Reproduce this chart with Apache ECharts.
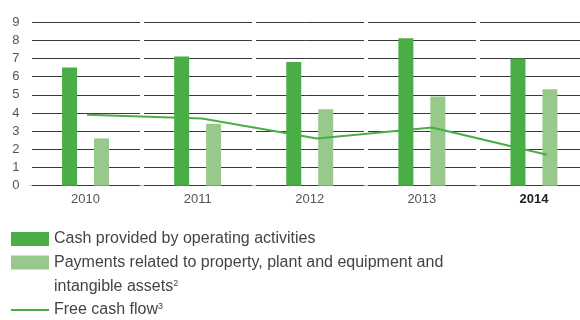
<!DOCTYPE html>
<html>
<head>
<meta charset="utf-8">
<script src="https://cdn.jsdelivr.net/npm/echarts@6/dist/echarts.min.js"></script>
<style>
  html, body { margin: 0; padding: 0; background: #fff; }
  #chart { width: 580px; height: 320px; }
</style>
</head>
<body>
<div id="chart"></div>
<script>
// Years on the category axis
const years = ['2010', '2011', '2012', '2013', '2014'];
// Values in billion euro
const operatingCash = [6.5, 7.1, 6.8, 8.1, 7.0];
const capexPayments = [2.6, 3.4, 4.2, 4.9, 5.3];
const freeCashFlow = [3.9, 3.7, 2.6, 3.2, 1.7];
// Y axis ticks
const yMin = 0, yMax = 9, yStep = 1;

const DARK = '#4aae46';
const LIGHT = '#97c98a';
const FONT = '"Liberation Sans", Arial, sans-serif';

const seriesNames = [
  'Cash provided by operating activities',
  'Payments related to property, plant and equipment and intangible assets',
  'Free cash flow'
];

const chart = echarts.init(document.getElementById('chart'), null, { renderer: 'canvas' });

const legendText = {
  fontFamily: FONT, fontSize: 16, color: '#444', lineHeight: 24,
  rich: { sup: { fontFamily: FONT, fontSize: 9, color: '#444', verticalAlign: 'middle', padding: [0, 0, 6, 0] } }
};

const legendBase = { orient: 'vertical', left: 11, padding: 0, itemWidth: 38, itemHeight: 14, itemGap: 0 };

// The plotting area runs past the right edge of the canvas
const gridBase = { top: 22, bottom: 134.3, outerBoundsMode: 'none', containLabel: false };

chart.setOption({
  animation: false,
  textStyle: { fontFamily: FONT },
  grid: [
    Object.assign({ left: 29.5, width: 560.5 }, gridBase),
    Object.assign({ left: 29.5, width: 575 }, gridBase)
  ],
  xAxis: [
    {
      type: 'category', gridIndex: 0, data: years, z: 1,
      axisLine: { show: false }, axisTick: { show: false },
      splitLine: { show: true, lineStyle: { color: '#fff', width: 4 } },
      axisLabel: {
        margin: 7, fontSize: 13, color: '#555', fontFamily: FONT,
        formatter: (v, i) => i === years.length - 1 ? '{b|' + v + '}' : v,
        rich: { b: { fontWeight: 'bold', color: '#222', fontSize: 13, fontFamily: FONT } }
      }
    },
    { type: 'category', gridIndex: 1, data: years, show: false }
  ],
  yAxis: [
    {
      type: 'value', gridIndex: 0, min: yMin, max: yMax, interval: yStep, z: 0,
      axisLine: { show: false }, axisTick: { show: false },
      splitLine: { show: true, lineStyle: { color: '#3a3a3a', width: 1 } },
      axisLabel: { margin: 10, fontSize: 13, color: '#555', fontFamily: FONT }
    },
    { type: 'value', gridIndex: 1, min: yMin, max: yMax, interval: yStep, show: false }
  ],
  legend: [
    Object.assign({}, legendBase, {
      top: 227, icon: 'rect', data: [seriesNames[0]], textStyle: legendText,
      formatter: () => 'Cash provided by operating activities'
    }),
    Object.assign({}, legendBase, {
      top: 226.5, icon: 'rect', data: [seriesNames[1]],
      textStyle: Object.assign({}, legendText, { padding: [24, 0, 0, 0] }),
      formatter: () => 'Payments related to property, plant and equipment and\nintangible assets{sup|2}'
    }),
    Object.assign({}, legendBase, {
      top: 298, icon: 'rect', itemHeight: 2, data: [seriesNames[2]], textStyle: legendText,
      formatter: () => 'Free cash flow{sup|3}'
    })
  ],
  series: [
    {
      name: seriesNames[0], type: 'bar', xAxisIndex: 0, yAxisIndex: 0,
      data: operatingCash, barWidth: 15, barGap: '113%',
      itemStyle: { color: DARK }
    },
    {
      name: seriesNames[1], type: 'bar', xAxisIndex: 0, yAxisIndex: 0,
      data: capexPayments, barWidth: 15, barGap: '113%',
      itemStyle: { color: LIGHT }
    },
    {
      name: seriesNames[2], type: 'line', xAxisIndex: 1, yAxisIndex: 1,
      data: freeCashFlow, symbol: 'none', z: 3,
      lineStyle: { color: DARK, width: 2 }, itemStyle: { color: DARK }
    }
  ]
});
</script>
</body>
</html>
